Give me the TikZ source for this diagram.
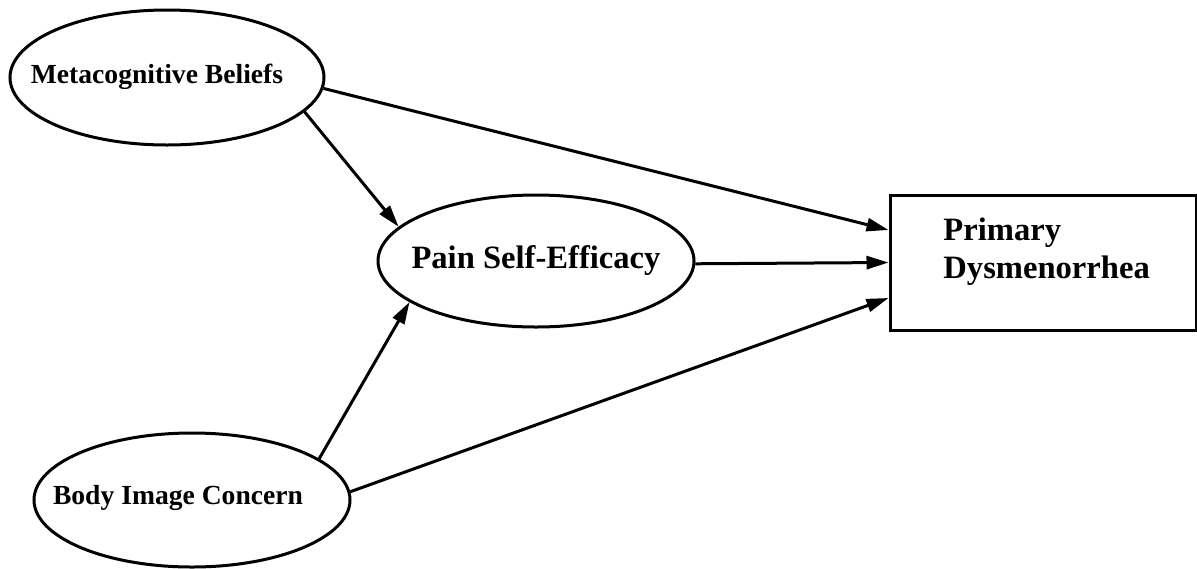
\documentclass[tikz,border=0pt]{standalone}
\usepackage{fontspec}
\setmainfont{Liberation Serif}
\usetikzlibrary{arrows.meta,shapes.geometric,calc}
\begin{document}
\begin{tikzpicture}[x=0.5pt,y=-0.5pt,
  latent/.style={ellipse,draw=black,line width=1.5pt,inner sep=0pt},
  obsbox/.style={rectangle,draw=black,line width=1.5pt,inner sep=0pt,minimum width=153pt,minimum height=67.5pt},
  smalltxt/.style={inner sep=0pt,font=\fontsize{13.8pt}{16pt}\selectfont\bfseries},
  bigtxt/.style={inner sep=0pt,font=\fontsize{16.3pt}{19pt}\selectfont\bfseries},
  arr/.style={line width=1.5pt,-{Triangle[length=11pt,width=6.5pt]}}]
\useasboundingbox (0,0) rectangle (1197,568);
% shapes
\node[latent,minimum width=157pt,minimum height=67.5pt] (meta) at (167,77.5) {};
\node[latent,minimum width=158pt,minimum height=66pt] (pain) at (536,261) {};
\node[latent,minimum width=158pt,minimum height=67pt] (body) at (192,500) {};
\node[obsbox] (pd) at (1043,262.5) {};
% texts
\node[smalltxt] (metaT) at (157,77) {Metacognitive Beliefs};
\node[bigtxt] (painT) at (536,261) {Pain Self-Efficacy};
\node[smalltxt] (bodyT) at (178,498) {Body Image Concern};
\node[bigtxt,align=left,anchor=west] (pdT) at (943,252) {Primary\\Dysmenorrhea};
% connectors
\coordinate (pdA) at ($(pd.west)+(0,-32.5)$);
\coordinate (pdC) at ($(pd.west)+(0,35.5)$);
\draw[arr] (meta.-4) -- (pdA);
\draw[arr] (meta.-14) -- (pain.166.6);
\draw[arr] (pain.-1.5) -- (pd.west);
\draw[arr] (body.18.6) -- (pain.198.4);
\draw[arr] (body.3.6) -- (pdC);
\end{tikzpicture}
\end{document}
